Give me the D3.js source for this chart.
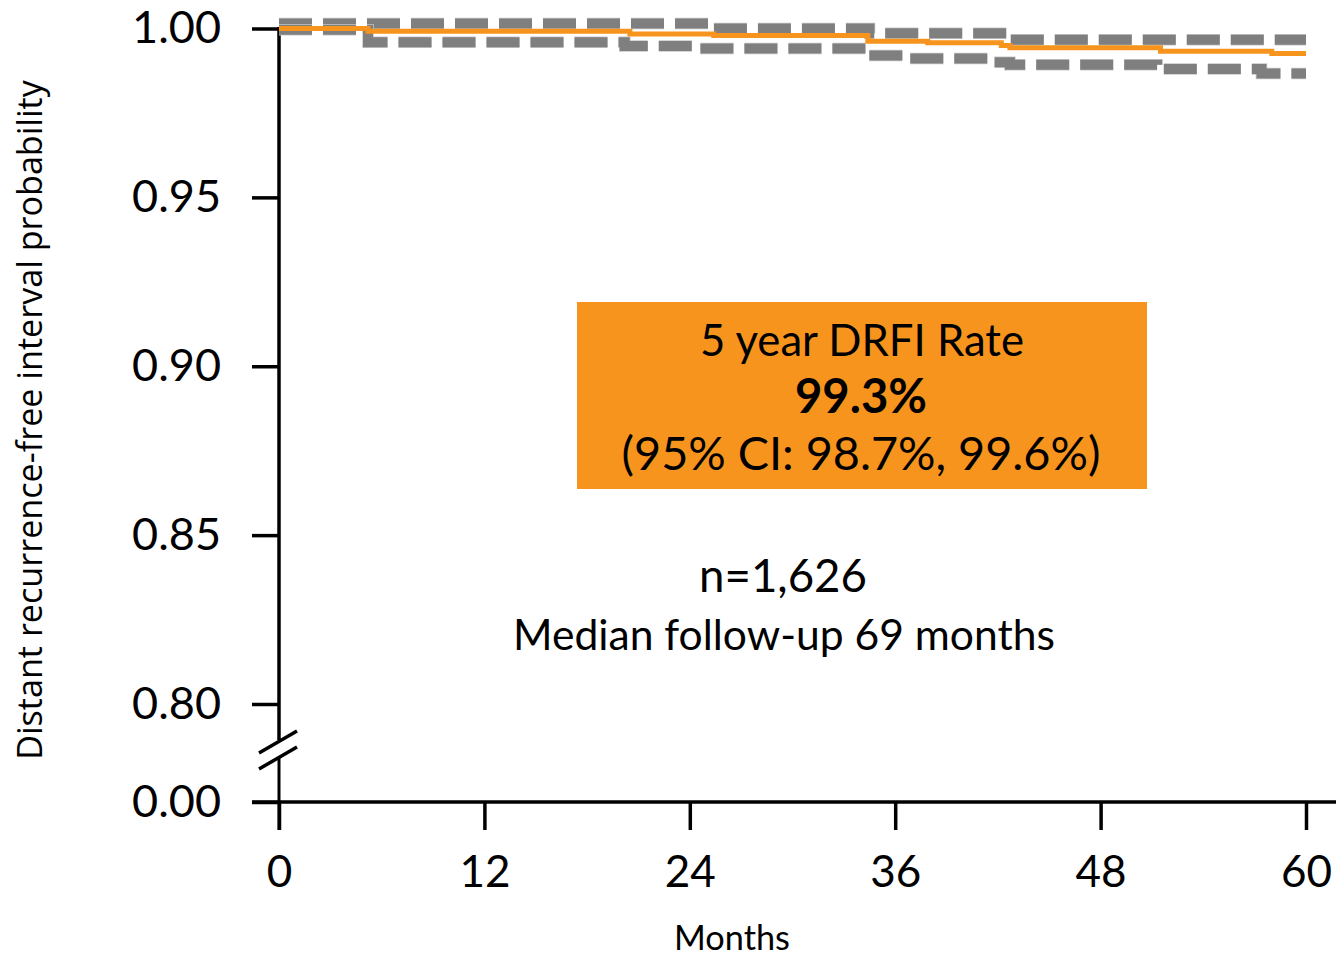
<!DOCTYPE html>
<html>
<head>
<meta charset="utf-8">
<script src="https://cdn.jsdelivr.net/npm/d3@7/dist/d3.min.js"></script>
<style>
  html, body { margin: 0; padding: 0; background: #fff; }
  svg { display: block; }
</style>
</head>
<body>
<svg id="chart" width="1336" height="957"></svg>
<script>
// ---- data ----
const kmTimes = [0, 5.2, 20.5, 25.4, 34.4, 37.9, 42.2, 42.7, 51.5, 58.0];
const kmSurv  = [1.000, 0.9992, 0.9984, 0.9979, 0.9962, 0.9958, 0.9950, 0.9943, 0.9933, 0.9926];
const upperTimes = [0, 25.4, 34.5, 42.7];
const upperCI    = [1.0015, 1.0000, 0.9986, 0.9967];
const lowerTimes = [0, 5.2, 20.2, 24.6, 34.4, 36.6, 41.7, 42.7, 51.3, 57.4];
const lowerCI    = [0.9996, 0.9959, 0.9948, 0.9941, 0.9920, 0.9911, 0.9900, 0.9893, 0.9880, 0.9867];
const endTime = 60;
const xTicks = [0, 12, 24, 36, 48, 60];
const yTicksUpper = [0.80, 0.85, 0.90, 0.95, 1.00];
const yTicksLower = [0.00];
const boxLines = ["5 year DRFI Rate", "99.3%", "(95% CI: 98.7%, 99.6%)"];
const noteLines = ["n=1,626", "Median follow-up 69 months"];
const xTitle = "Months";
const yTitle = "Distant recurrence-free interval probability";

// ---- layout ----
const svg = d3.select("#chart");
const ORANGE = "#F7941D";
const GRAY = "#7f7f7f";
const MAIN_FONT = "Lato, 'Noto Sans', sans-serif";

const x = d3.scaleLinear().domain([0, 60]).range([279, 1306]);
const yUp = d3.scaleLinear().domain([0.80, 1.00]).range([704, 28.5]);
const yLow = d3.scaleLinear().domain([0.00, 0.80]).range([802, 704]);

svg.append("rect").attr("width", 1336).attr("height", 957).attr("fill", "#fff");

function fit(sel, target) {
  const w = sel.node().getComputedTextLength();
  const fs = parseFloat(sel.attr("font-size"));
  sel.attr("font-size", (fs * target / w).toFixed(2));
  return sel;
}

// ---- axes ----
const yAxisUp = d3.axisLeft(yUp).tickValues(yTicksUpper).tickFormat(d3.format(".2f")).tickSize(27).tickPadding(31);
const yAxisLow = d3.axisLeft(yLow).tickValues(yTicksLower).tickFormat(d3.format(".2f")).tickSize(27).tickPadding(31);
const xAxis = d3.axisBottom(x).tickValues(xTicks).tickSize(28).tickPadding(26);

function styleAxis(g) {
  g.select(".domain").remove();
  g.selectAll(".tick line").attr("stroke", "#000").attr("stroke-width", 3.5);
  g.selectAll(".tick text").attr("fill", "#000").attr("font-family", MAIN_FONT).attr("font-size", 45);
}
svg.append("g").attr("transform", "translate(279,0)").call(yAxisUp).call(styleAxis);
svg.append("g").attr("transform", "translate(279,0)").call(yAxisLow).call(styleAxis);
const gx = svg.append("g").attr("transform", "translate(0,802)").call(xAxis).call(styleAxis);
gx.selectAll(".tick text").attr("dy", "0.71em").attr("font-size", 44);

// axis lines (with break)
svg.append("line").attr("x1", 252).attr("x2", 1336).attr("y1", yLow(0)).attr("y2", yLow(0))
  .attr("stroke", "#000").attr("stroke-width", 3.5);
svg.append("line").attr("x1", x(0)).attr("x2", x(0)).attr("y1", yUp(1.0) - 1.5).attr("y2", 740)
  .attr("stroke", "#000").attr("stroke-width", 3.5);
svg.append("line").attr("x1", x(0)).attr("x2", x(0)).attr("y1", 758).attr("y2", 830)
  .attr("stroke", "#000").attr("stroke-width", 3);
// break marks
[[259, 753, 297, 731], [259, 769, 297, 747]].forEach(s => {
  svg.append("line").attr("x1", s[0]).attr("y1", s[1]).attr("x2", s[2]).attr("y2", s[3])
    .attr("stroke", "#000").attr("stroke-width", 3.5);
});

// ---- curves ----
function stepData(times, vals) {
  const d = times.map((t, i) => [t, vals[i]]);
  d.push([endTime, vals[vals.length - 1]]);
  return d;
}
const line = d3.line().x(d => x(d[0])).y(d => yUp(d[1])).curve(d3.curveStepAfter);

[[upperTimes, upperCI], [lowerTimes, lowerCI]].forEach(([t, v]) => {
  svg.append("path").attr("d", line(stepData(t, v)))
    .attr("fill", "none").attr("stroke", "#c8c8c8").attr("stroke-width", 11.5)
    .attr("stroke-dasharray", "33,11");
  svg.append("path").attr("d", line(stepData(t, v)))
    .attr("fill", "none").attr("stroke", GRAY).attr("stroke-width", 10)
    .attr("stroke-dasharray", "33,11");
});
svg.append("path").attr("d", line(stepData(kmTimes, kmSurv)))
  .attr("fill", "none").attr("stroke", ORANGE).attr("stroke-width", 5);

// ---- annotation box ----
svg.append("rect").attr("x", 577).attr("y", 302).attr("width", 570).attr("height", 187).attr("fill", ORANGE);
const t1 = svg.append("text").attr("x", 862).attr("y", 356).attr("text-anchor", "middle")
  .attr("font-family", MAIN_FONT).attr("font-size", 40).attr("fill", "#000").text(boxLines[0]);
fit(t1, 324);
const t2 = svg.append("text").attr("x", 861).attr("y", 413).attr("text-anchor", "middle")
  .attr("font-family", MAIN_FONT).attr("font-weight", "bold").attr("font-size", 40).attr("fill", "#000").text(boxLines[1]);
fit(t2, 132);
const t3 = svg.append("text").attr("x", 861).attr("y", 470).attr("text-anchor", "middle")
  .attr("font-family", MAIN_FONT).attr("font-size", 40).attr("fill", "#000").text(boxLines[2]);
fit(t3, 479);

const n1 = svg.append("text").attr("x", 783).attr("y", 592).attr("text-anchor", "middle")
  .attr("font-family", MAIN_FONT).attr("font-size", 40).attr("fill", "#000").text(noteLines[0]);
fit(n1, 168);
const n2 = svg.append("text").attr("x", 784).attr("y", 650).attr("text-anchor", "middle")
  .attr("font-family", MAIN_FONT).attr("font-size", 40).attr("fill", "#000").text(noteLines[1]);
fit(n2, 542);

// ---- titles ----
const xt = svg.append("text").attr("x", 732).attr("y", 950).attr("text-anchor", "middle")
  .attr("font-family", MAIN_FONT).attr("font-size", 36).attr("fill", "#000").text(xTitle);
fit(xt, 116);
const yt = svg.append("text").attr("transform", "translate(42,420) rotate(-90)").attr("text-anchor", "middle")
  .attr("font-family", "'Open Sans', sans-serif").attr("font-size", 32).attr("fill", "#000").text(yTitle);
fit(yt, 680);
</script>
</body>
</html>
